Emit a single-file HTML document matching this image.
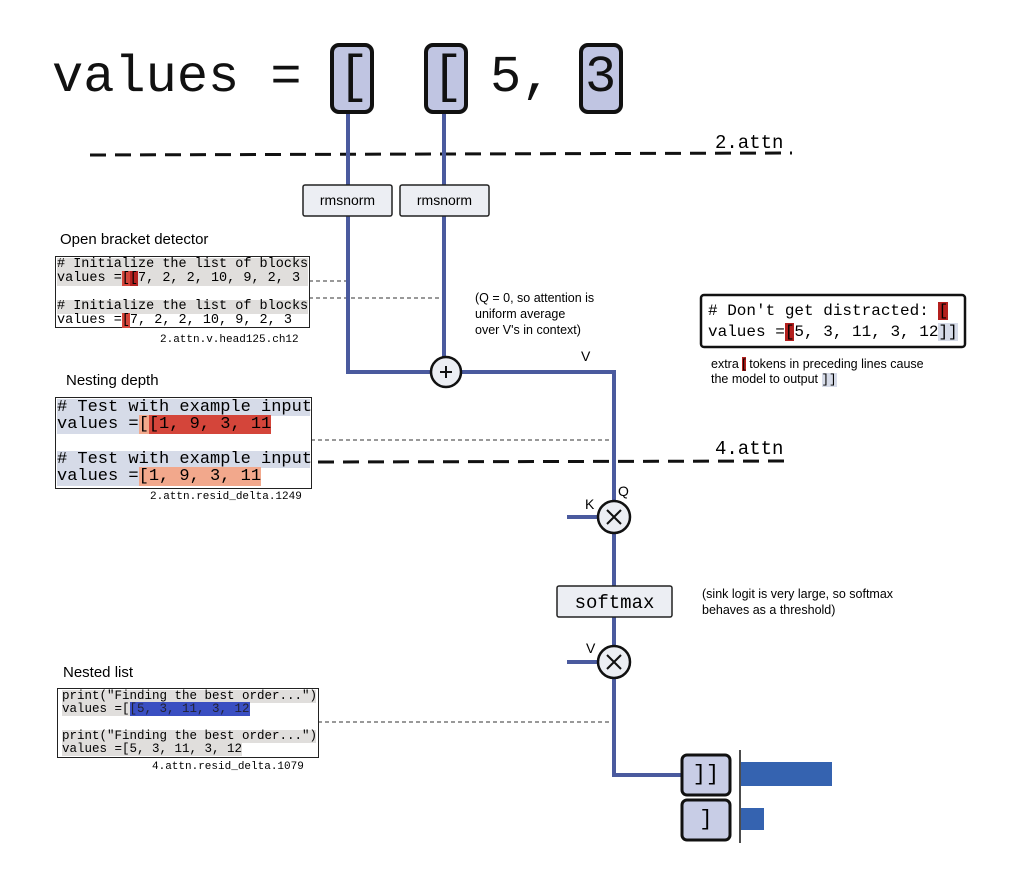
<!DOCTYPE html>
<html><head><meta charset="utf-8"><style>
body{margin:0;width:1022px;height:884px;background:#fff;position:relative;overflow:hidden;font-family:"Liberation Sans",sans-serif;}
.a{position:absolute;white-space:pre;}
.m{font-family:"Liberation Mono",monospace;}
.panel{position:absolute;border:1.5px solid #222;background:#fff;box-sizing:border-box;}
.ln{white-space:pre;font-family:"Liberation Mono",monospace;line-height:1;}
.r1{background:#b3201e;}
.r2{background:#d4453a;}
.o{background:#f2a88c;}
.bl{background:#3a4fc2;color:#223;}
.g{background:#e0dedc;}
.lb{background:#d6dbe8;}
</style></head><body>
<svg width="1022" height="884" style="position:absolute;left:0;top:0">
<!-- dashed layer lines -->
<line x1="90" y1="155" x2="792" y2="153" stroke="#111" stroke-width="3" stroke-dasharray="16,9"/>
<line x1="318" y1="462" x2="792" y2="461" stroke="#111" stroke-width="3" stroke-dasharray="16,9"/>
<!-- thin dashed -->
<line x1="309" y1="281" x2="346" y2="281" stroke="#333" stroke-width="1" stroke-dasharray="4,3"/>
<line x1="309" y1="298" x2="443" y2="298" stroke="#333" stroke-width="1" stroke-dasharray="4,3"/>
<line x1="311" y1="440" x2="612" y2="440" stroke="#333" stroke-width="1" stroke-dasharray="4,3"/>
<line x1="318" y1="722" x2="612" y2="722" stroke="#333" stroke-width="1" stroke-dasharray="4,3"/>
<!-- blue lines -->
<g stroke="#4a5a9e" stroke-width="4" fill="none">
<polyline points="348,112 348,372 431,372"/>
<line x1="444" y1="112" x2="444" y2="357"/>
<polyline points="461,372 614,372 614,502"/>
<line x1="614" y1="532" x2="614" y2="647"/>
<polyline points="614,677 614,775 681,775"/>
<line x1="567" y1="517" x2="599" y2="517"/>
<line x1="567" y1="662" x2="599" y2="662"/>
</g>
<!-- top token boxes -->
<g fill="#c0c5e2" stroke="#111" stroke-width="4">
<rect x="332" y="45" width="40" height="67" rx="7"/>
<rect x="426" y="45" width="40" height="67" rx="7"/>
<rect x="581" y="45" width="40" height="67" rx="7"/>
</g>
<!-- rmsnorm boxes -->
<g fill="#eceef3" stroke="#222" stroke-width="1.5">
<rect x="303" y="185" width="89" height="31" rx="2"/>
<rect x="400" y="185" width="89" height="31" rx="2"/>
<rect x="557" y="586" width="115" height="31" rx="2"/>
</g>
<!-- circles -->
<g fill="#eceef3" stroke="#111" stroke-width="2.5">
<circle cx="446" cy="372" r="15"/>
<circle cx="614" cy="517" r="16"/>
<circle cx="614" cy="662" r="16"/>
</g>
<g stroke="#111" stroke-width="2">
<line x1="440" y1="372" x2="452" y2="372"/><line x1="446" y1="366" x2="446" y2="378"/>
<line x1="607" y1="510" x2="621" y2="524"/><line x1="621" y1="510" x2="607" y2="524"/>
<line x1="607" y1="655" x2="621" y2="669"/><line x1="621" y1="655" x2="607" y2="669"/>
</g>
<!-- output boxes -->
<g fill="#c8cde6" stroke="#111" stroke-width="3">
<rect x="682" y="755" width="48" height="40" rx="5"/>
<rect x="682" y="800" width="48" height="40" rx="5"/>
</g>
<line x1="740" y1="750" x2="740" y2="843" stroke="#111" stroke-width="1.5"/>
<rect x="741" y="762" width="91" height="24" fill="#3563b0"/>
<rect x="741" y="808" width="23" height="22" fill="#3563b0"/>
<!-- right box -->
<rect x="701" y="295" width="264" height="52" fill="#fff" stroke="#111" stroke-width="2.5" rx="3"/>
</svg>

<div class="a m" style="left:52px;top:48px;font-size:52px;line-height:60px;color:#111">values = <span style="position:absolute;left:286px">[</span><span style="position:absolute;left:380px">[</span><span style="position:absolute;left:438px">5,</span><span style="position:absolute;left:533px">3</span></div>
<div class="a m" style="left:715px;top:132px;font-size:19px">2.attn</div>
<div class="a m" style="left:715px;top:438px;font-size:19px">4.attn</div>
<div class="a" style="left:303px;top:192px;width:89px;text-align:center;font-size:14px">rmsnorm</div>
<div class="a" style="left:400px;top:192px;width:89px;text-align:center;font-size:14px">rmsnorm</div>
<div class="a m" style="left:557px;top:592px;width:115px;text-align:center;font-size:19px">softmax</div>
<div class="a m" style="left:682px;top:762px;width:48px;text-align:center;font-size:22px">]]</div>
<div class="a m" style="left:682px;top:807px;width:48px;text-align:center;font-size:22px">]</div>
<div class="a" style="left:581px;top:348px;font-size:14px">V</div>
<div class="a" style="left:585px;top:496px;font-size:14px">K</div>
<div class="a" style="left:618px;top:483px;font-size:14px">Q</div>
<div class="a" style="left:586px;top:640px;font-size:14px">V</div>
<div class="a" style="left:475px;top:290px;font-size:12.5px;line-height:16px">(Q = 0, so attention is
uniform average
over V's in context)</div>
<div class="a" style="left:702px;top:586px;font-size:12.5px;line-height:16px">(sink logit is very large, so softmax
behaves as a threshold)</div>

<!-- Right example -->
<div class="a m" style="left:708px;top:301px;font-size:16px;line-height:21px"># Don't get distracted: <span class="r1">[</span>
values =<span class="r1">[</span>5, 3, 11, 3, 12<span class="lb">]]</span></div>
<div class="a" style="left:711px;top:357px;font-size:12.5px;line-height:15px">extra <span class="r1">[</span> tokens in preceding lines cause
the model to output <span class="lb m">]]</span></div>

<!-- Open bracket detector -->
<div class="a" style="left:60px;top:231px;font-size:15px">Open bracket detector</div>
<div class="panel" style="left:55px;top:256px;width:255px;height:72px;">
<div class="ln g" style="font-size:13.5px;position:absolute;left:1px;top:1px;width:251px"># Initialize the list of blocks</div>
<div class="ln g" style="font-size:13.5px;position:absolute;left:1px;top:15px;width:251px">values =<span class="r2">[</span><span class="r1">[</span>7, 2, 2, 10, 9, 2, 3</div>
<div class="ln g" style="font-size:13.5px;position:absolute;left:1px;top:43px;width:251px"># Initialize the list of blocks</div>
<div class="ln" style="font-size:13.5px;position:absolute;left:1px;top:57px;width:251px">values =<span class="r2">[</span>7, 2, 2, 10, 9, 2, 3</div>
</div>
<div class="a m" style="left:160px;top:334px;font-size:11px">2.attn.v.head125.ch12</div>

<!-- Nesting depth -->
<div class="a" style="left:66px;top:372px;font-size:15px">Nesting depth</div>
<div class="panel" style="left:55px;top:397px;width:257px;height:92px;">
<div class="ln lb" style="font-size:17px;position:absolute;left:1px;top:1px;width:253px"># Test with example input</div>
<div class="ln" style="font-size:17px;position:absolute;left:1px;top:18px"><span class="lb">values =</span><span class="o">[</span><span class="r2">[1, 9, 3, 11</span></div>
<div class="ln lb" style="font-size:17px;position:absolute;left:1px;top:53px;width:253px"># Test with example input</div>
<div class="ln" style="font-size:17px;position:absolute;left:1px;top:70px"><span class="lb">values =</span><span class="o">[1, 9, 3, 11</span></div>
</div>
<div class="a m" style="left:150px;top:491px;font-size:11px">2.attn.resid_delta.1249</div>

<!-- Nested list -->
<div class="a" style="left:63px;top:664px;font-size:15px">Nested list</div>
<div class="panel" style="left:57px;top:688px;width:262px;height:70px;">
<div class="ln g" style="font-size:12.5px;position:absolute;left:4px;top:1px;width:254px">print("Finding the best order...")</div>
<div class="ln" style="font-size:12.5px;position:absolute;left:4px;top:14px"><span class="g">values =[</span><span class="bl">[5, 3, 11, 3, 12</span></div>
<div class="ln g" style="font-size:12.5px;position:absolute;left:4px;top:41px;width:254px">print("Finding the best order...")</div>
<div class="ln g" style="font-size:12.5px;position:absolute;left:4px;top:54px">values =[5, 3, 11, 3, 12</div>
</div>
<div class="a m" style="left:152px;top:761px;font-size:11px">4.attn.resid_delta.1079</div>
</body></html>
